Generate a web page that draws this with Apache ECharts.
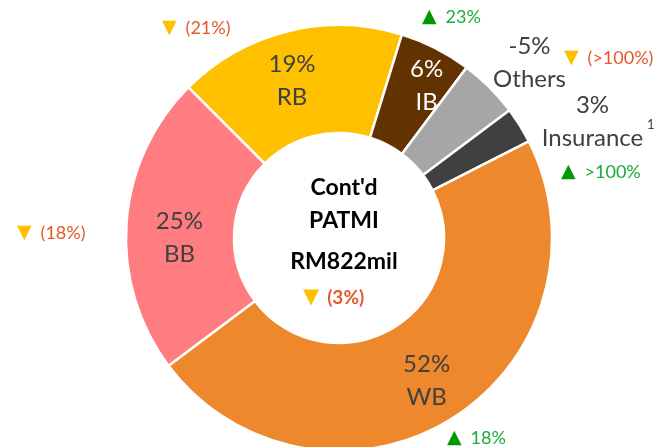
<!DOCTYPE html>
<html>
<head>
<meta charset="utf-8">
<script src="https://cdn.jsdelivr.net/npm/echarts@6/dist/echarts.min.js"></script>
<style>
  html, body { margin: 0; padding: 0; background: #fff; }
  #chart { width: 661px; height: 447px; }
</style>
</head>
<body>
<div id="chart"></div>
<script>
// segment data, clockwise from the RB slice
const categories = ['RB', 'IB', 'Others', 'Insurance', 'WB', 'BB'];
const shares = [19, 6, 5, 3, 52, 25];
const shareLabels = ['19%', '6%', '-5%', '3%', '52%', '25%'];
const changeUp = [false, true, false, true, true, false];
const changeText = ['(21%)', '23%', '(>100%)', '>100%', '18%', '(18%)'];
const centreLines = ["Cont'd", 'PATMI', 'RM822mil'];
const totalChange = '(3%)';
const footnote = '1';

const FONT = 'Lato, "Open Sans", sans-serif';
const sliceColors = ['#FFC000', '#623300', '#A6A6A6', '#404040', '#EE882C', '#FF7C80'];
const RED = '#E8562A';
const GREEN_TRI = '#009A00';
const GREEN_TXT = '#1DAA3A';

// label nudges from the default inside position
const labelShift = [[-8, 0], [14, -8], [76, -61], [116, -31], [2, 5], [2, 11]];
// where the yoy change notes sit (left edge, middle)
const notePos = [[162, 28], [422, 17], [564, 58], [561, 172], [447, 438], [17, 233]];

const chart = echarts.init(document.getElementById('chart'));

const pieData = categories.map((name, i) => ({
  name,
  value: shares[i],
  itemStyle: { color: sliceColors[i] },
  label: i === 1 ? { color: '#fff' } : {},
}));

const notes = changeText.map((txt, i) => ({
  type: 'text',
  x: notePos[i][0],
  y: notePos[i][1],
  style: {
    text: '{t|' + (changeUp[i] ? '▲' : '▼') + '}{v|' + txt + '}',
    verticalAlign: 'middle',
    align: 'left',
    rich: {
      t: { fontSize: 19, fontFamily: 'DejaVu Sans', fill: changeUp[i] ? GREEN_TRI : '#FFC000' },
      v: { fontSize: 18, fontFamily: FONT, fill: changeUp[i] ? GREEN_TXT : RED, padding: [0, 0, 0, 9] },
    },
  },
}));

const centreY = [188, 221, 262];
const centre = centreLines.map((t, i) => ({
  type: 'text',
  x: 344,
  y: centreY[i],
  style: {
    text: t,
    font: 'bold 23px ' + FONT,
    fill: '#000',
    align: 'center',
    verticalAlign: 'middle',
  },
}));

chart.setOption({
  animation: false,
  backgroundColor: '#fff',
  series: [
    {
      type: 'pie',
      center: [339, 238],
      radius: [105, 213],
      startAngle: 135,
      clockwise: true,
      avoidLabelOverlap: false,
      itemStyle: { borderColor: '#fff', borderWidth: 2.5 },
      label: {
        show: true,
        position: 'inside',
        color: '#404040',
        fontSize: 24,
        lineHeight: 33,
        fontFamily: FONT,
        align: 'center',
        formatter: (p) => shareLabels[p.dataIndex] + '\n' + p.name,
      },
      labelLine: { show: false },
      labelLayout: (p) => ({ dx: labelShift[p.dataIndex][0], dy: labelShift[p.dataIndex][1] }),
      data: pieData,
    },
  ],
  graphic: [
    ...notes,
    ...centre,
    {
      type: 'text',
      x: 303,
      y: 298,
      style: {
        text: '{t|▼}{v|' + totalChange + '}',
        verticalAlign: 'middle',
        align: 'left',
        rich: {
          t: { fontSize: 21, fontFamily: 'DejaVu Sans', fill: '#FFC000' },
          v: { fontSize: 19, fontWeight: 'bold', fontFamily: FONT, fill: RED, padding: [0, 0, 0, 8] },
        },
      },
    },
    {
      type: 'text',
      x: 647,
      y: 125,
      style: { text: footnote, font: '13px ' + FONT, fill: '#404040', align: 'left', verticalAlign: 'middle' },
    },
  ],
});
</script>
</body>
</html>
